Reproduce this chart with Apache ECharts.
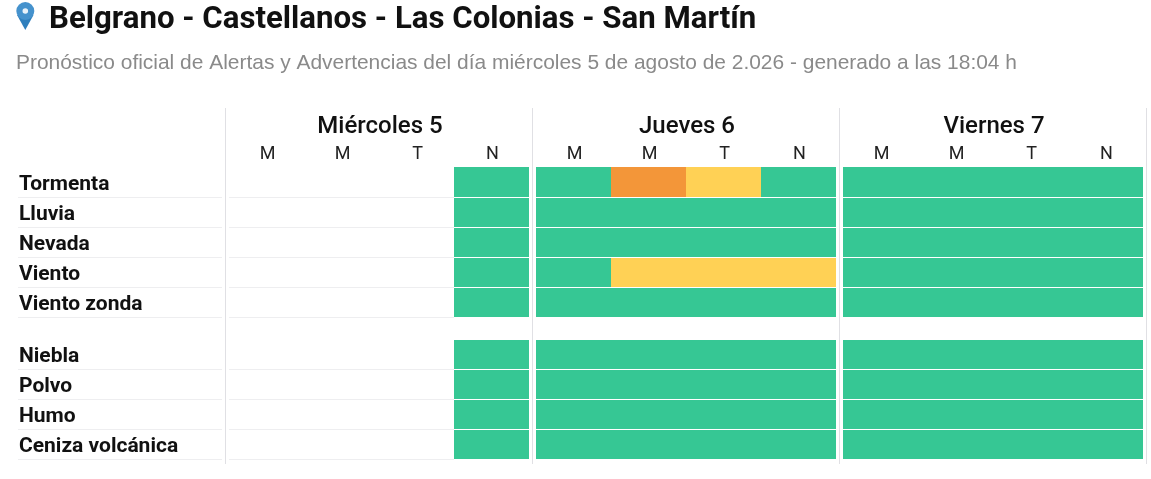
<!DOCTYPE html>
<html>
<head>
<meta charset="utf-8">
<script src="https://cdn.jsdelivr.net/npm/echarts@6/dist/echarts.min.js"></script>
<style>
    html, body { margin: 0; padding: 0; background: #fff; }
    #chart { width: 1151px; height: 479px; }
</style>
</head>
<body>
<div id="chart"></div>
<script>
const titleText = "Belgrano - Castellanos - Las Colonias - San Martín";
const subtitleText = "Pronóstico oficial de Alertas y Advertencias del día miércoles 5 de agosto de 2.026 - generado a las 18:04 h";

const days = ["Miércoles 5", "Jueves 6", "Viernes 7"];
const periods = ["M", "M", "T", "N"];
const rowsTop = ["Tormenta", "Lluvia", "Nevada", "Viento", "Viento zonda"];
const rowsBottom = ["Niebla", "Polvo", "Humo", "Ceniza volcánica"];

// nivel por periodo: 0 sin dato, 1 verde, 2 amarillo, 3 naranja
const levelsTop = [
    [[0, 0, 0, 1], [1, 3, 2, 1], [1, 1, 1, 1]],
    [[0, 0, 0, 1], [1, 1, 1, 1], [1, 1, 1, 1]],
    [[0, 0, 0, 1], [1, 1, 1, 1], [1, 1, 1, 1]],
    [[0, 0, 0, 1], [1, 2, 2, 2], [1, 1, 1, 1]],
    [[0, 0, 0, 1], [1, 1, 1, 1], [1, 1, 1, 1]]
];
const levelsBottom = [
    [[0, 0, 0, 1], [1, 1, 1, 1], [1, 1, 1, 1]],
    [[0, 0, 0, 1], [1, 1, 1, 1], [1, 1, 1, 1]],
    [[0, 0, 0, 1], [1, 1, 1, 1], [1, 1, 1, 1]],
    [[0, 0, 0, 1], [1, 1, 1, 1], [1, 1, 1, 1]]
];
const levelColors = ["", "#36c794", "#ffd155", "#f39639"];

const dayLeft = [229, 536, 843];
const blocks = [
    { top: 167, rows: rowsTop, levels: levelsTop },
    { top: 339, rows: rowsBottom, levels: levelsBottom }
];
const rowHeight = 30;
const font = "Roboto, sans-serif";
const rowLineColor = "#eeeef0";
const dayLineColor = "#e0e0e4";

const grids = [], xAxes = [], yAxes = [], series = [];

// la primera fila del primer bloque llega un pixel mas arriba
const makeRenderCell = (b) => (params, api) => {
    const p = api.coord([api.value(0), api.value(1)]);
    const size = api.size([1, 1]);
    const x = p[0] - size[0] / 2;
    const y = p[1] - size[1] / 2;
    const inset = b === 0 && api.value(1) === 0 ? 0 : 1;
    return {
        type: "group",
        children: [
            { type: "rect", shape: { x: x, y: y, width: size[0], height: size[1] + 1 }, style: { fill: "#fff" } },
            { type: "rect", shape: { x: x, y: y + inset, width: size[0], height: size[1] - inset }, style: { fill: levelColors[api.value(2)] } }
        ]
    };
};

blocks.forEach((block, b) => {
    const height = block.rows.length * rowHeight;

    // columna de nombres
    let g = grids.length;
    grids.push({ left: 18, top: block.top, width: 204, height: height });
    xAxes.push({ type: "category", gridIndex: g, data: [""], show: false });
    yAxes.push({
        type: "category", gridIndex: g, data: block.rows, inverse: true,
        axisLine: { show: false }, axisTick: { show: false },
        axisLabel: {
            inside: true, margin: 1, align: "left", color: "#111", fontFamily: font, fontWeight: "bold", fontSize: 21,
            verticalAlign: "top", lineHeight: 6, interval: 0, showMinLabel: true, showMaxLabel: true
        },
        splitLine: { show: true, showMinLine: false, lineStyle: { color: rowLineColor, width: 1 } }
    });

    days.forEach((day, d) => {
        g = grids.length;
        grids.push({ left: dayLeft[d], top: block.top, width: 300, height: height });
        xAxes.push({
            type: "category", gridIndex: g, data: periods, position: "top", show: b === 0,
            name: day, nameLocation: "middle", nameGap: 28,
            nameTextStyle: { color: "#111", fontFamily: font, fontWeight: 500, fontSize: 24, padding: [0, 0, 0, 2] },
            axisLine: { show: false }, axisTick: { show: false },
            axisLabel: { color: "#222", fontFamily: font, fontSize: 18, margin: 4, padding: [0, 0, 0, 2] }
        });
        yAxes.push({
            type: "category", gridIndex: g, data: block.rows, inverse: true,
            axisLine: { show: false }, axisTick: { show: false }, axisLabel: { show: false },
            splitLine: { show: true, showMinLine: false, lineStyle: { color: rowLineColor, width: 1 } }
        });
        const cells = [];
        block.levels.forEach((row, r) => {
            row[d].forEach((level, p) => {
                if (level > 0) cells.push([p, r, level]);
            });
        });
        series.push({
            type: "custom", xAxisIndex: g, yAxisIndex: g, data: cells,
            renderItem: makeRenderCell(b), silent: true, animation: false, clip: false
        });
    });
});

const dividers = [225, 532, 839, 1146].map((x) => ({
    type: "line", silent: true,
    shape: { x1: x + 0.5, y1: 108, x2: x + 0.5, y2: 464 },
    style: { stroke: dayLineColor, lineWidth: 1 }
}));

const option = {
    animation: false,
    backgroundColor: "#fff",
    title: [
        { text: titleText, left: 49, top: 5, padding: 0, textStyle: { color: "#111", fontFamily: font, fontWeight: "bold", fontSize: 31.2 } },
        { text: subtitleText, left: 16, top: 53, padding: 0, textStyle: { color: "#8a8a8a", fontFamily: "'Liberation Sans', Arial, sans-serif", fontWeight: "normal", fontSize: 20.95 } }
    ],
    grid: grids,
    xAxis: xAxes,
    yAxis: yAxes,
    series: series,
    graphic: dividers.concat([
        {
            type: "polygon", silent: true,
            shape: { points: [[17, 15], [33.5, 15], [25.3, 30]] },
            style: { fill: "#2f7fbd" }
        },
        {
            type: "circle", silent: true,
            shape: { cx: 25.3, cy: 11, r: 9 },
            style: { fill: "#4592cd" }
        },
        {
            type: "circle", silent: true,
            shape: { cx: 25.3, cy: 11, r: 2.8 },
            style: { fill: "#e8f2fa" }
        }
    ])
};

const myChart = echarts.init(document.getElementById("chart"));
myChart.setOption(option);
</script>
</body>
</html>
